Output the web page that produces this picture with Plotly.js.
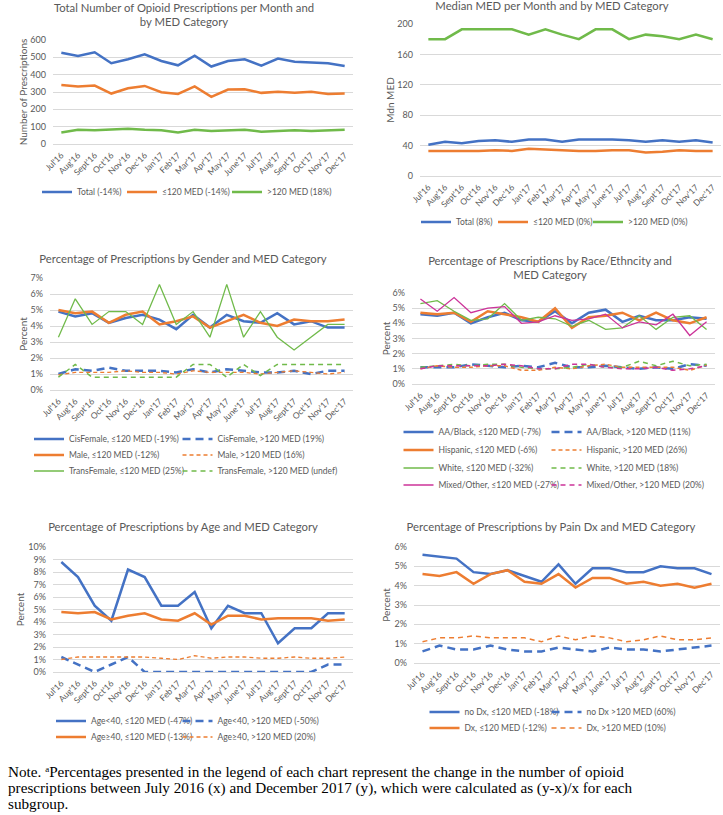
<!DOCTYPE html>
<html><head><meta charset="utf-8">
<script src="https://cdn.plot.ly/plotly-3.0.1.min.js"></script>
<style>
body{margin:0;background:#fff;width:723px;height:815px;position:relative;overflow:hidden}
.p{position:absolute}
#note{position:absolute;left:8px;top:764px;font-family:"Liberation Serif",serif;font-size:15.2px;line-height:16px;color:#000;white-space:nowrap}
#note sup{font-size:9px;vertical-align:5px;line-height:0}
</style></head><body>
<div id="c1" class="p" style="left:0;top:0;width:362px;height:230px"></div>
<div id="c2" class="p" style="left:362px;top:0;width:361px;height:230px"></div>
<div id="c3" class="p" style="left:0;top:230px;width:362px;height:250px"></div>
<div id="c4" class="p" style="left:362px;top:230px;width:361px;height:265px"></div>
<div id="c5" class="p" style="left:0;top:470px;width:362px;height:280px"></div>
<div id="c6" class="p" style="left:362px;top:470px;width:361px;height:280px"></div>
<div id="note">Note. <sup>a</sup>Percentages presented in the legend of each chart represent the change in the number of opioid<br>prescriptions between July 2016 (x) and December 2017 (y), which were calculated as (y-x)/x for each<br>subgroup.</div>
<script>
// ---- categories ----
const months = ["Jul'16","Aug'16","Sept'16","Oct'16","Nov'16","Dec'16","Jan'17","Feb'17","Mar'17","Apr'17","May'17","June'17","Jul'17","Aug'17","Sept'17","Oct'17","Nov'17","Dec'17"];

// ---- Panel 1: number of prescriptions ----
const rxTotal = [527,508,529,466,489,517,479,454,510,447,479,489,452,493,475,470,466,450];
const rxLow   = [341,332,337,291,322,335,299,289,332,272,314,316,295,301,295,301,289,291];
const rxHigh  = [67,82,80,84,88,82,79,67,82,75,79,82,71,77,79,75,77,82];

// ---- Panel 2: median MED ----
const medTotal = [41,45,43,46,47,45,48,48,45,48,48,48,47,45,47,45,47,44];
const medLow   = [33,33,33,33,34,33,36,35,34,33,33,34,34,31,32,34,33,33];
const medHigh  = [180,180,193,193,193,193,186,193,186,180,193,193,180,186,184,180,186,180];

// ---- Panel 3: gender (%) ----
const cisLow    = [4.9,4.6,4.8,4.2,4.5,4.7,4.4,3.8,4.7,3.9,4.7,4.3,4.2,4.8,4.1,4.3,3.9,3.9];
const cisHigh   = [1.0,1.3,1.2,1.4,1.2,1.2,1.2,1.1,1.3,1.1,1.3,1.2,1.1,1.1,1.2,1.0,1.2,1.2];
const maleLow   = [5.0,4.8,4.9,4.2,4.7,4.9,4.1,4.3,4.6,3.9,4.3,4.7,4.2,4.0,4.4,4.3,4.3,4.4];
const maleHigh  = [0.95,1.1,1.1,1.1,1.2,1.1,1.1,1.0,1.2,1.1,1.1,1.1,1.0,1.1,1.2,1.1,1.0,1.1];
const transLow  = [3.3,5.7,4.1,4.9,4.9,4.1,6.6,4.1,4.9,3.3,6.6,3.3,4.9,3.3,2.5,3.3,4.1,4.1];
const transHigh = [0.8,1.6,0.8,0.8,0.8,0.8,0.8,0.8,1.6,1.6,0.8,1.6,0.9,1.6,1.6,1.6,1.6,1.6];

// ---- Panel 4: race/ethnicity (%) ----
const blackLow  = [4.6,4.5,4.7,4.0,4.4,4.7,4.2,4.1,4.8,4.0,4.7,4.9,4.1,4.5,4.2,4.2,4.4,4.3];
const blackHigh = [1.1,1.1,1.1,1.3,1.2,1.1,1.2,1.1,1.4,1.1,1.1,1.2,1.1,1.0,1.1,1.0,1.3,1.2];
const hispLow   = [4.7,4.6,4.7,4.1,4.8,4.6,4.4,4.1,5.0,3.7,4.4,4.5,4.7,4.2,4.7,4.2,4.0,4.4];
const hispHigh  = [1.0,1.2,1.1,1.1,1.2,1.2,0.9,0.9,1.1,1.0,1.2,1.3,1.1,1.1,1.1,1.1,0.9,1.25];
const whiteLow  = [5.3,5.5,4.8,4.2,4.3,5.3,4.2,4.4,4.3,3.8,4.2,3.6,3.7,4.5,3.6,4.4,4.5,3.6];
const whiteHigh = [1.1,1.2,1.3,1.2,1.3,1.3,1.1,1.0,1.0,1.1,1.3,1.1,1.1,1.5,1.2,1.5,1.2,1.3];
const mixLow    = [5.6,4.8,5.7,4.7,5.0,5.1,4.0,4.1,4.5,4.2,4.3,4.6,3.7,4.1,3.9,4.6,3.2,4.1];
const mixHigh   = [1.0,1.2,1.2,1.2,1.2,1.3,1.2,1.0,1.0,1.3,1.3,1.1,1.0,1.0,1.1,0.9,1.0,1.2];

// ---- Panel 5: age (%) ----
const youngLow  = [8.8,7.6,5.3,4.1,8.2,7.6,5.3,5.3,6.4,3.5,5.3,4.7,4.7,2.3,3.5,3.5,4.7,4.7];
const youngHigh = [1.2,0.6,0.0,0.6,1.2,0.0,0.0,0.0,0.0,0.0,0.0,0.0,0.0,0.0,0.0,0.0,0.6,0.6];
const oldLow    = [4.8,4.7,4.8,4.2,4.5,4.7,4.2,4.1,4.7,3.8,4.5,4.5,4.2,4.3,4.3,4.3,4.1,4.2];
const oldHigh   = [1.0,1.2,1.2,1.2,1.2,1.2,1.1,1.0,1.3,1.1,1.2,1.2,1.1,1.1,1.2,1.1,1.1,1.2];

// ---- Panel 6: pain Dx (%) ----
const noDxLow  = [5.6,5.5,5.4,4.7,4.6,4.8,4.5,4.2,5.1,4.1,4.9,4.9,4.7,4.7,5.0,4.9,4.9,4.6];
const noDxHigh = [0.6,0.9,0.7,0.7,0.9,0.7,0.6,0.6,0.8,0.7,0.6,0.8,0.7,0.7,0.6,0.7,0.8,0.9];
const dxLow    = [4.6,4.5,4.7,4.1,4.6,4.8,4.2,4.1,4.6,3.9,4.4,4.4,4.1,4.2,4.0,4.1,3.9,4.1];
const dxHigh   = [1.1,1.3,1.3,1.4,1.3,1.3,1.3,1.1,1.4,1.2,1.4,1.3,1.1,1.2,1.4,1.2,1.2,1.3];

// ---- styles ----
const BLUE = '#4472C4', ORANGE = '#ED7D31', GREEN = '#70BA4A', MAGENTA = '#CC3399';
const GRID = '#D9D9D9', TXT = '#595959', FONT = 'Lato, "Open Sans", sans-serif';
const solid = (c, w) => ({color: c, width: w});
const dashed = (c, w, d) => ({color: c, width: w, dash: d});

function panel(id, cfg) {
  const W = cfg.W, H = cfg.H, m = cfg.m;
  const data = [], layout = {
    width: W, height: H,
    margin: {l: m.l, r: m.r, t: m.t, b: m.b, autoexpand: false},
    paper_bgcolor: 'rgba(0,0,0,0)', plot_bgcolor: 'rgba(0,0,0,0)',
    font: {family: FONT, color: TXT},
    showlegend: true,
    title: {text: cfg.title, xref: 'container', yref: 'container', x: cfg.titleX / W, y: 1 - cfg.titleTop / H,
            xanchor: 'center', yanchor: 'top', font: {family: FONT, size: 11.3, color: TXT}},
    xaxis: {type: 'category', range: [-0.5, months.length - 0.5], tickangle: -45,
            tickfont: {size: 8.5, color: TXT}, showgrid: false, showline: true, linecolor: GRID, linewidth: 1,
            ticks: '', zeroline: false, fixedrange: true, automargin: false, ticklabelstandoff: 2},
    yaxis: {range: cfg.yRange, dtick: cfg.dtick, tick0: 0, ticksuffix: cfg.suffix || '',
            gridcolor: GRID, gridwidth: 1, zeroline: false, showline: false, ticks: '',
            tickfont: {size: 9, color: TXT}, ticklabelstandoff: 6, automargin: false, fixedrange: true,
            title: {text: cfg.ytitle, font: {size: 10, color: TXT}, standoff: cfg.ystand}}
  };
  cfg.series.forEach((s, i) => {
    const key = i === 0 ? 'legend' : 'legend' + (i + 1);
    data.push({type: 'scatter', mode: 'lines', x: months, y: s.y, name: s.name, line: s.line,
               legend: key, hoverinfo: 'skip'});
    const top = cfg.rows[s.row] - 14.5;
    layout[key] = {xref: 'container', yref: 'container', x: cfg.cols[s.col] / W, y: 1 - top / H,
                   xanchor: 'left', yanchor: 'top', orientation: 'h', bgcolor: 'rgba(0,0,0,0)',
                   borderwidth: 0, font: {family: FONT, size: 8.5, color: TXT}};
  });
  Plotly.newPlot(id, data, layout, {staticPlot: true, displayModeBar: false});
}

panel('c1', {W: 362, H: 230, m: {l: 53, r: 9, t: 40, b: 86},
  title: 'Total Number of Opioid Prescriptions per Month and<br>by MED Category', titleX: 184, titleTop: 11.5,
  ytitle: 'Number of Prescriptions', ystand: 0, yRange: [0, 600], dtick: 100,
  cols: [37, 122, 227], rows: [192],
  series: [
    {y: rxTotal, name: 'Total (-14%)', line: solid(BLUE, 2.5), col: 0, row: 0},
    {y: rxLow, name: '≤120 MED (-14%)', line: solid(ORANGE, 2.5), col: 1, row: 0},
    {y: rxHigh, name: '>120 MED (18%)', line: solid(GREEN, 2.5), col: 2, row: 0}
  ]});

panel('c2', {W: 361, H: 230, m: {l: 58, r: 2, t: 24, b: 54},
  title: 'Median MED per Month and by MED Category', titleX: 190, titleTop: 2.5,
  ytitle: 'Mdn MED', ystand: 0, yRange: [0, 200], dtick: 40,
  cols: [54, 131, 226], rows: [222],
  series: [
    {y: medTotal, name: 'Total (8%)', line: solid(BLUE, 2.5), col: 0, row: 0},
    {y: medLow, name: '≤120 MED (0%)', line: solid(ORANGE, 2.5), col: 1, row: 0},
    {y: medHigh, name: '>120 MED (0%)', line: solid(GREEN, 2.5), col: 2, row: 0}
  ]});

panel('c3', {W: 362, H: 250, m: {l: 50, r: 9, t: 48, b: 90},
  title: 'Percentage of Prescriptions by Gender and MED Category', titleX: 183, titleTop: 25.5,
  ytitle: 'Percent', ystand: 1, yRange: [0, 7], dtick: 1, suffix: '%',
  cols: [29, 177.5], rows: [209, 225, 241],
  series: [
    {y: cisLow, name: 'CisFemale, ≤120 MED (-19%)', line: solid(BLUE, 2.5), col: 0, row: 0},
    {y: cisHigh, name: 'CisFemale, >120 MED (19%)', line: dashed(BLUE, 2.5, '8px,5px'), col: 1, row: 0},
    {y: maleLow, name: 'Male, ≤120 MED (-12%)', line: solid(ORANGE, 2.5), col: 0, row: 1},
    {y: maleHigh, name: 'Male, >120 MED (16%)', line: dashed(ORANGE, 1.3, '4px,3px'), col: 1, row: 1},
    {y: transLow, name: 'TransFemale, ≤120 MED (25%)', line: solid(GREEN, 1.3), col: 0, row: 2},
    {y: transHigh, name: 'TransFemale, >120 MED (undef)', line: dashed(GREEN, 1.5, '5px,4px'), col: 1, row: 2}
  ]});

panel('c4', {W: 361, H: 265, m: {l: 50, r: 8, t: 63, b: 111},
  title: 'Percentage of Prescriptions by Race/Ethncity and<br>MED Category', titleX: 188, titleTop: 34.5,
  ytitle: 'Percent', ystand: 0, yRange: [0, 6], dtick: 1, suffix: '%',
  cols: [36.5, 184.5], rows: [202, 220, 238, 255],
  series: [
    {y: blackLow, name: 'AA/Black, ≤120 MED (-7%)', line: solid(BLUE, 2.5), col: 0, row: 0},
    {y: blackHigh, name: 'AA/Black, >120 MED (11%)', line: dashed(BLUE, 2.5, '8px,5px'), col: 1, row: 0},
    {y: hispLow, name: 'Hispanic, ≤120 MED (-6%)', line: solid(ORANGE, 2.5), col: 0, row: 1},
    {y: hispHigh, name: 'Hispanic, >120 MED (26%)', line: dashed(ORANGE, 1.5, '4px,3px'), col: 1, row: 1},
    {y: whiteLow, name: 'White, ≤120 MED (-32%)', line: solid(GREEN, 1.3), col: 0, row: 2},
    {y: whiteHigh, name: 'White, >120 MED (18%)', line: dashed(GREEN, 1.5, '5px,4px'), col: 1, row: 2},
    {y: mixLow, name: 'Mixed/Other, ≤120 MED (-27%)', line: solid(MAGENTA, 1.3), col: 0, row: 3},
    {y: mixHigh, name: 'Mixed/Other, >120 MED (20%)', line: dashed(MAGENTA, 1.5, '5px,4px'), col: 1, row: 3}
  ]});

panel('c5', {W: 362, H: 280, m: {l: 53, r: 9, t: 77, b: 78},
  title: 'Percentage of Prescriptions by Age and MED Category', titleX: 183, titleTop: 53.5,
  ytitle: 'Percent', ystand: 1, yRange: [0, 10], dtick: 1, suffix: '%',
  cols: [51, 177.5], rows: [251, 267],
  series: [
    {y: youngLow, name: 'Age<40, ≤120 MED (-47%)', line: solid(BLUE, 2.5), col: 0, row: 0},
    {y: youngHigh, name: 'Age<40, >120 MED (-50%)', line: dashed(BLUE, 2.5, '8px,5px'), col: 1, row: 0},
    {y: oldLow, name: 'Age≥40, ≤120 MED (-13%)', line: solid(ORANGE, 2.5), col: 0, row: 1},
    {y: oldHigh, name: 'Age≥40, >120 MED (20%)', line: dashed(ORANGE, 1.3, '4px,3px'), col: 1, row: 1}
  ]});

panel('c6', {W: 361, H: 280, m: {l: 52, r: 3, t: 77, b: 87},
  title: 'Percentage of Prescriptions by Pain Dx and MED Category', titleX: 189, titleTop: 53.5,
  ytitle: 'Percent', ystand: 2, yRange: [0, 6], dtick: 1, suffix: '%',
  cols: [62.5, 184.5], rows: [242, 258],
  series: [
    {y: noDxLow, name: 'no Dx, ≤120 MED (-18%)', line: solid(BLUE, 2.5), col: 0, row: 0},
    {y: noDxHigh, name: 'no Dx >120 MED (60%)', line: dashed(BLUE, 2.5, '8px,5px'), col: 1, row: 0},
    {y: dxLow, name: 'Dx, ≤120 MED (-12%)', line: solid(ORANGE, 2.5), col: 0, row: 1},
    {y: dxHigh, name: 'Dx, >120 MED (10%)', line: dashed(ORANGE, 1.5, '5px,4px'), col: 1, row: 1}
  ]});
</script>
</body></html>
